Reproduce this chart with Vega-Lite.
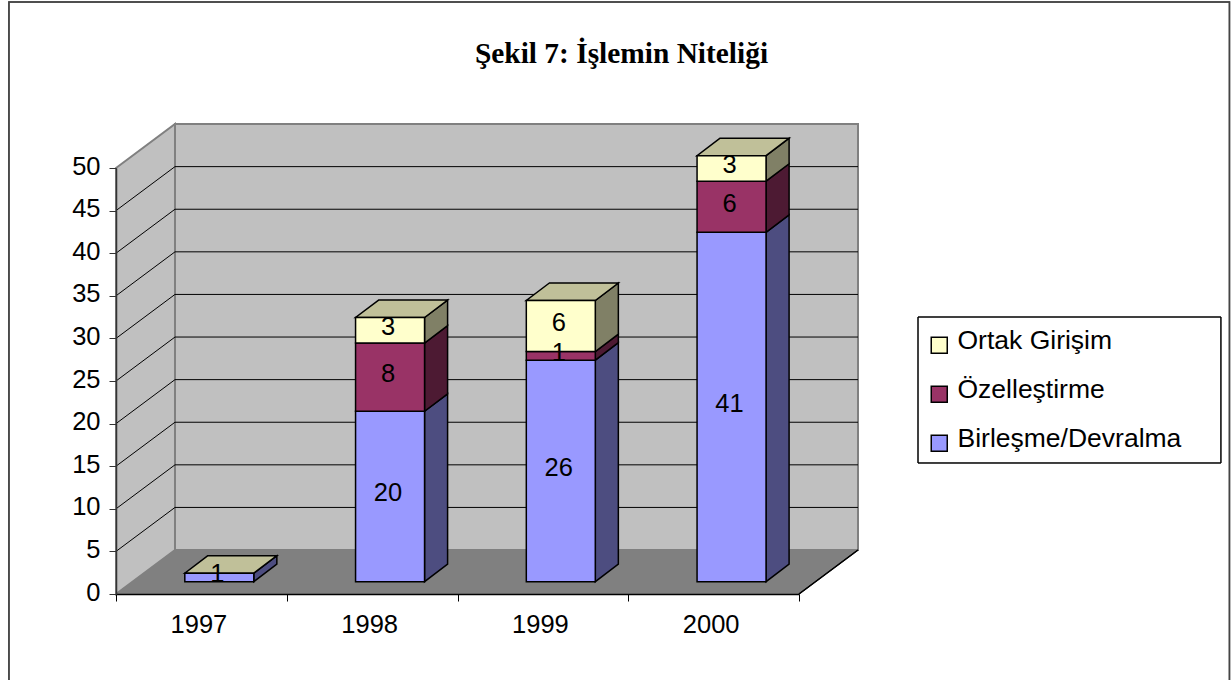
{
"$schema":"https://vega.github.io/schema/vega-lite/v6.json",
"width":683,"height":426,
"autosize":{"type":"none"},
"padding":{"left":116,"top":168,"right":432,"bottom":86},
"background":"white",
"title":{"text":"Şekil 7: İşlemin Niteliği","font":"Liberation Serif","fontSize":29.4,"fontWeight":"bold","color":"black","anchor":"middle","frame":"group","dx":164,"dy":68,"offset":0},
"config":{"view":{"stroke":null}},
"datasets":{
"rows":[
{"year":1997,"series":"Birleşme/Devralma","order":1,"value":1},
{"year":1997,"series":"Özelleştirme","order":2,"value":0},
{"year":1997,"series":"Ortak Girişim","order":3,"value":0},
{"year":1998,"series":"Birleşme/Devralma","order":1,"value":20},
{"year":1998,"series":"Özelleştirme","order":2,"value":8},
{"year":1998,"series":"Ortak Girişim","order":3,"value":3},
{"year":1999,"series":"Birleşme/Devralma","order":1,"value":26},
{"year":1999,"series":"Özelleştirme","order":2,"value":1},
{"year":1999,"series":"Ortak Girişim","order":3,"value":6},
{"year":2000,"series":"Birleşme/Devralma","order":1,"value":41},
{"year":2000,"series":"Özelleştirme","order":2,"value":6},
{"year":2000,"series":"Ortak Girişim","order":3,"value":3}
],
"depth":[{"d":0},{"d":1}],
"ticks":[{"t":5},{"t":10},{"t":15},{"t":20},{"t":25},{"t":30},{"t":35},{"t":40},{"t":45}]
},
"layer":[
{"data":{"name":"depth"},"mark":{"type":"rect","fill":"transparent","stroke":"#444444","strokeWidth":1.5},
"encoding":{
"x":{"datum":1995.873,"type":"quantitative","scale":{"domain":[1996.5,2000.5],"nice":false,"zero":false},"title":null,
 "axis":{"values":[1996.5,1997,1997.5,1998,1998.5,1999,1999.5,2000,2000.5],"grid":false,"zindex":1,"title":null,"domainColor":"black","domainWidth":1.5,"tickColor":"black","tickSize":7,"tickOpacity":{"condition":{"test":"datum.value%1!=0","value":1},"value":0},"labelExpr":"datum.value%1==0 ? format(datum.value,'d') : ''","labelFont":"Liberation Sans","labelFontSize":25.5,"labelColor":"black","labelPadding":11,"labelOffset":-3,"labelFlush":false,"labelOverlap":false}},
"x2":{"datum":2003.021},
"y":{"datum":69.48,"type":"quantitative","scale":{"domain":[0,50],"nice":false,"zero":false},"title":null,
 "axis":{"values":[0,5,10,15,20,25,30,35,40,45,50],"grid":false,"zindex":1,"title":null,"domainColor":"#333333","domainWidth":1.5,"tickColor":"#333333","tickSize":7,"labelFont":"Liberation Sans","labelFontSize":25.5,"labelColor":"black","labelPadding":9,"labelOffset":-2,"labelFlush":false,"labelOverlap":false}},
"y2":{"datum":-11.27}}},
{"data":{"name":"depth"},"mark":{"type":"rect","fill":"#C0C0C0","stroke":"#808080","strokeWidth":2},
"encoding":{
"x":{"datum":1996.8455,"type":"quantitative","scale":{"domain":[1996.5,2000.5],"nice":false,"zero":false}},
"x2":{"datum":2000.8455},
"y":{"datum":5.16,"type":"quantitative","scale":{"domain":[0,50],"nice":false,"zero":false}},
"y2":{"datum":55.16}}},
{"data":{"name":"depth"},"transform":[{"calculate":"1996.5+datum.d*0.3455","as":"x"},{"calculate":"datum.d*5.16","as":"b"},{"calculate":"50+datum.d*5.16","as":"t"}],
"mark":{"type":"area","fill":"#C0C0C0","stroke":"#808080","strokeWidth":2},
"encoding":{
"x":{"field":"x","type":"quantitative","scale":{"domain":[1996.5,2000.5],"nice":false,"zero":false}},
"y":{"field":"t","type":"quantitative","stack":null,"scale":{"domain":[0,50],"nice":false,"zero":false}},
"y2":{"field":"b"}}},
{"data":{"name":"depth"},"transform":[{"calculate":"1996.5+datum.d*0.3455","as":"x"},{"calculate":"2000.5+datum.d*0.3455","as":"x2"},{"calculate":"datum.d*5.16","as":"y"}],
"mark":{"type":"area","orient":"horizontal","fill":"#808080"},
"encoding":{
"y":{"field":"y","type":"quantitative","scale":{"domain":[0,50],"nice":false,"zero":false}},
"x":{"field":"x","type":"quantitative","stack":null,"scale":{"domain":[1996.5,2000.5],"nice":false,"zero":false}},
"x2":{"field":"x2"}}},
{"data":{"name":"depth"},"mark":{"type":"rule","color":"black","strokeWidth":1.2},
"encoding":{
"x":{"datum":2000.5,"type":"quantitative","scale":{"domain":[1996.5,2000.5],"nice":false,"zero":false}},
"x2":{"datum":2000.8455},
"y":{"datum":0,"type":"quantitative","scale":{"domain":[0,50],"nice":false,"zero":false}},
"y2":{"datum":5.16}}},
{"data":{"name":"ticks"},"transform":[{"calculate":"datum.t+5.16","as":"back"}],"mark":{"type":"rule","color":"black","strokeWidth":1},
"encoding":{
"x":{"datum":1996.5,"type":"quantitative","scale":{"domain":[1996.5,2000.5],"nice":false,"zero":false}},
"x2":{"datum":1996.8455},
"y":{"field":"t","type":"quantitative","scale":{"domain":[0,50],"nice":false,"zero":false}},
"y2":{"field":"back"}}},
{"data":{"name":"ticks"},"transform":[{"calculate":"datum.t+5.16","as":"back"}],"mark":{"type":"rule","color":"black","strokeWidth":1},
"encoding":{
"x":{"datum":1996.8455,"type":"quantitative","scale":{"domain":[1996.5,2000.5],"nice":false,"zero":false}},
"x2":{"datum":2000.8455},
"y":{"field":"back","type":"quantitative","scale":{"domain":[0,50],"nice":false,"zero":false}}}},
{"data":{"name":"depth"},"mark":{"type":"rect","fill":"transparent","stroke":"black","strokeWidth":1},
"encoding":{
"x":{"datum":2001.197,"type":"quantitative","scale":{"domain":[1996.5,2000.5],"nice":false,"zero":false}},
"x2":{"datum":2002.971},
"y":{"datum":32.51,"type":"quantitative","scale":{"domain":[0,50],"nice":false,"zero":false}},
"y2":{"datum":15.376}}},
{"data":{"name":"rows"},"transform":[
{"stack":"value","groupby":["year"],"sort":[{"field":"order","order":"ascending"}],"as":["v0","v1"]},
{"filter":"datum.value>0"},
{"calculate":"[0,1]","as":"ds"},{"flatten":["ds"],"as":["d"]},
{"calculate":"datum.year+0.307+datum.d*0.135","as":"x"},
{"calculate":"datum.v1+1.45+datum.d*2.05","as":"t"},
{"calculate":"datum.v0+1.45+datum.d*2.05","as":"b"}],
"mark":{"type":"area","stroke":"black","strokeWidth":1.5,"strokeJoin":"miter"},
"encoding":{
"x":{"field":"x","type":"quantitative","scale":{"domain":[1996.5,2000.5],"nice":false,"zero":false}},
"y":{"field":"t","type":"quantitative","stack":null,"scale":{"domain":[0,50],"nice":false,"zero":false}},
"y2":{"field":"b"},
"detail":[{"field":"year"},{"field":"series"}],
"fill":{"field":"series","type":"nominal","legend":null,"scale":{"domain":["Birleşme/Devralma","Özelleştirme","Ortak Girişim"],"range":["#4D4D80","#4D1A33","#808066"]}}}},
{"data":{"name":"rows"},"transform":[
{"stack":"value","groupby":["year"],"sort":[{"field":"order","order":"ascending"}],"as":["v0","v1"]},
{"filter":"datum.order==3"},
{"calculate":"[0,1]","as":"ds"},{"flatten":["ds"],"as":["d"]},
{"calculate":"datum.year-0.097+datum.d*0.135","as":"xl"},
{"calculate":"datum.year+0.307+datum.d*0.135","as":"xr"},
{"calculate":"datum.v1+1.45+datum.d*2.05","as":"y"}],
"mark":{"type":"area","orient":"horizontal","fill":"#C0C099","stroke":"black","strokeWidth":1.5,"strokeJoin":"miter"},
"encoding":{
"y":{"field":"y","type":"quantitative","scale":{"domain":[0,50],"nice":false,"zero":false}},
"x":{"field":"xl","type":"quantitative","stack":null,"scale":{"domain":[1996.5,2000.5],"nice":false,"zero":false}},
"x2":{"field":"xr"},
"detail":{"field":"year"}}},
{"data":{"name":"rows"},"transform":[
{"stack":"value","groupby":["year"],"sort":[{"field":"order","order":"ascending"}],"as":["v0","v1"]},
{"filter":"datum.value>0"},
{"calculate":"datum.year-0.097","as":"xl"},
{"calculate":"datum.year+0.307","as":"xr"},
{"calculate":"datum.v0+1.45","as":"b"},
{"calculate":"datum.v1+1.45","as":"t"}],
"mark":{"type":"rect","stroke":"black","strokeWidth":1.5},
"encoding":{
"x":{"field":"xl","type":"quantitative","scale":{"domain":[1996.5,2000.5],"nice":false,"zero":false}},
"x2":{"field":"xr"},
"y":{"field":"b","type":"quantitative","scale":{"domain":[0,50],"nice":false,"zero":false}},
"y2":{"field":"t"},
"color":{"field":"series","type":"nominal","scale":{"domain":["Ortak Girişim","Özelleştirme","Birleşme/Devralma"],"range":["#FFFFCC","#993366","#9999FF"]},
 "legend":{"orient":"none","legendX":810,"legendY":160,"title":null,"symbolType":"M-1,-0.5H1V1.5H-1Z","symbolSize":256,"symbolStrokeColor":"black","symbolStrokeWidth":1.5,"symbolOpacity":1,"labelFont":"Liberation Sans","labelFontSize":26.5,"labelColor":"black","labelOffset":5,"labelLimit":300,"rowPadding":20,"padding":0}}}},
{"data":{"name":"rows"},"transform":[
{"stack":"value","groupby":["year"],"sort":[{"field":"order","order":"ascending"}],"as":["v0","v1"]},
{"filter":"datum.value>0"},
{"calculate":"datum.year+0.105","as":"xc"},
{"calculate":"(datum.v0+datum.v1)/2+1.45","as":"yc"}],
"mark":{"type":"text","font":"Liberation Sans","fontSize":25.5,"color":"black","xOffset":-2,"yOffset":-3},
"encoding":{
"x":{"field":"xc","type":"quantitative","scale":{"domain":[1996.5,2000.5],"nice":false,"zero":false}},
"y":{"field":"yc","type":"quantitative","scale":{"domain":[0,50],"nice":false,"zero":false}},
"text":{"field":"value","type":"quantitative"}}}
]
}
